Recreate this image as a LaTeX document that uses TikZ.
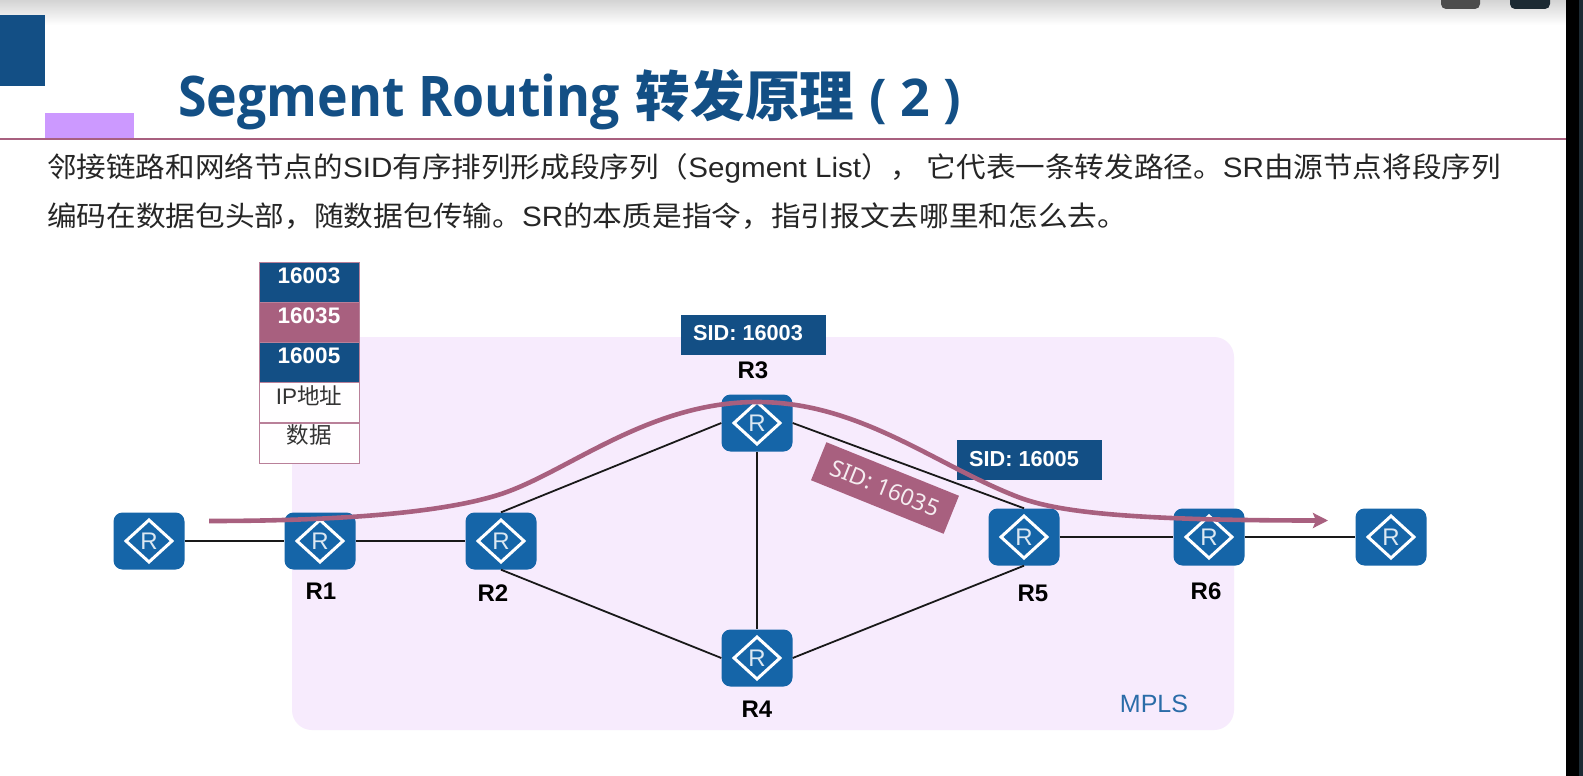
\documentclass[tikz,border=0pt]{standalone}
\usepackage{fontspec}
\usepackage{graphicx}
\setmainfont{Liberation Sans}
\newfontfamily\cjk{Noto Sans CJK SC}
\newfontfamily\titlefont{Open Sans}
\newfontfamily\sidfont{Noto Sans}
\usetikzlibrary{arrows.meta}
\definecolor{deepblue}{HTML}{134F85}
\definecolor{routerblue}{HTML}{1565A8}
\definecolor{rose}{HTML}{A8607F}
\definecolor{lav}{HTML}{F7EBFD}
\definecolor{purp}{HTML}{CC99FF}
\definecolor{mplsblue}{HTML}{2A6CA8}
\definecolor{strip}{HTML}{1C2A33}
\tikzset{
  x=1pt,y=-1pt,
  rtr/.style={rectangle,rounded corners=9pt,fill=routerblue,minimum width=71pt,minimum height=57pt,inner sep=0pt,
    text=white!85!routerblue,font=\fontsize{24}{24}\selectfont,
    path picture={\draw[white,line width=3pt,sharp corners]
      ([xshift=-23pt]path picture bounding box.center)--([yshift=21pt]path picture bounding box.center)--
      ([xshift=23pt]path picture bounding box.center)--([yshift=-21pt]path picture bounding box.center)--cycle;}},
  link/.style={draw=black!90,line width=1.8pt},
  rlabel/.style={font=\bfseries\fontsize{24}{24}\selectfont,text=black,inner sep=0pt},
  stackcell/.style={minimum width=100pt,minimum height=40pt,inner sep=0pt,draw=rose!80!white,line width=1pt},
  celltext/.style={inner sep=0pt,font=\bfseries\fontsize{22.5}{22.5}\selectfont,text=white},
  cellplain/.style={inner sep=0pt,font=\fontsize{22.5}{22.5}\selectfont,text=black!80},
  sidbox/.style={fill=deepblue,minimum width=145pt,minimum height=40pt,inner sep=0pt},
  sidtext/.style={inner sep=0pt,font=\bfseries\fontsize{21.7}{21.7}\selectfont,text=white},
  bodyline/.style={anchor=west,inner sep=0pt,text=black!85,font=\fontsize{28}{28}\selectfont},
}
\begin{document}
\begin{tikzpicture}
\useasboundingbox (0,0) rectangle (1583,776);
\fill[white] (0,0) rectangle (1583,776);
\shade[top color=black!17,bottom color=white] (0,0) rectangle (1566,25);
\fill[black!70!white,rounded corners=5pt] (1441,-10) rectangle (1480,9);
\fill[strip,rounded corners=5pt] (1510,-10) rectangle (1550,9);
\fill[black] (1566,0) rectangle (1579,776);
\fill[strip] (1579,0) rectangle (1583,776);
% header
\fill[deepblue] (0,15) rectangle (44.5,86);
\fill[purp] (44.5,113) rectangle (134,138);
\draw[rose,line width=2pt] (0,138.5) -- (1566,138.5);
\node[anchor=west,inner sep=0pt,text=deepblue,font=\titlefont\bfseries\fontsize{56}{56}\selectfont] (title) at (178,100)
  {\scalebox{.925}[1]{Segment Routing}\hspace{16pt}{\cjk\bfseries\fontsize{54.6}{56}\selectfont 转发原理}\hspace{15pt}{\fontsize{52}{56}\selectfont ( 2 )}};
\node[bodyline] (line1) at (47,168) {\scalebox{1.057}[1]{{\cjk 邻接链路和网络节点的}SID{\cjk 有序排列形成段序列（}Segment List{\cjk ）， 它代表一条转发路径。}SR{\cjk 由源节点将段序列}}};
\node[bodyline] (line2) at (47,216) {\scalebox{1.06}[1]{{\cjk 编码在数据包头部，随数据包传输。}SR{\cjk 的本质是指令，指引报文去哪里和怎么去。}}};
% MPLS region
\fill[lav,rounded corners=20pt] (292,337) rectangle (1234,730);
\node[inner sep=0pt,text=mplsblue,font=\fontsize{25}{25}\selectfont] (mpls) at (1154,704) {MPLS};
% routers
\node[rtr] (h1) at (149,541) {R};
\node[rtr] (r1) at (320,541) {R};
\node[rtr] (r2) at (501,541) {R};
\node[rtr] (r3) at (757,423) {R};
\node[rtr] (r4) at (757,658) {R};
\node[rtr] (r5) at (1024,537) {R};
\node[rtr] (r6) at (1209,537) {R};
\node[rtr] (h2) at (1391,537) {R};
\draw[link] (h1.east) -- (r1.west);
\draw[link] (r1.east) -- (r2.west);
\draw[link] (r2.north) -- (r3.west);
\draw[link] (r2.south) -- (r4.west);
\draw[link] (r3.east) -- (r5.north);
\draw[link] (r3.south) -- (r4.north);
\draw[link] (r4.east) -- (r5.south);
\draw[link] (r5.east) -- (r6.west);
\draw[link] (r6.east) -- (h2.west);
% labels
\node[rlabel] (l1) at (321,591) {R1};
\node[rlabel] (l2) at (493,593) {R2};
\node[rlabel] (l3) at (753,370) {R3};
\node[rlabel] (l4) at (757,709) {R4};
\node[rlabel] (l5) at (1033,593) {R5};
\node[rlabel] (l6) at (1206,591) {R6};
% packet stack
\node[stackcell,fill=deepblue] (c1) at (309,282) {};
\node[stackcell,fill=rose] (c2) at (309,322) {};
\node[stackcell,fill=deepblue] (c3) at (309,362) {};
\node[stackcell,fill=white!97!lav] (c4) at (309,402.5) {};
\node[stackcell,fill=white!97!lav] (c5) at (309,443) {};
\node[celltext] (t1) at (309,276) {16003};
\node[celltext] (t2) at (309,316) {16035};
\node[celltext] (t3) at (309,356) {16005};
\node[cellplain] (t4) at (309,396) {IP{\cjk 地址}};
\node[cellplain] (t5) at (309,435) {\cjk 数据};
% SID tags
\node[sidbox] (s3) at (753.5,334.5) {};
\node[sidtext] (st3) at (748,333) {SID: 16003};
\node[sidbox] (s5) at (1029.5,459.5) {};
\node[sidtext] (st5) at (1024,459) {SID: 16005};
\node[fill=rose,minimum width=143pt,minimum height=41pt,inner sep=0pt,rotate=-22,text=white!88!rose,font=\sidfont\fontsize{23}{23}\selectfont] (s35) at (885,488) {SID: 16035};
% path
\coordinate (ps) at (209,521);
\coordinate (pe) at (1328,520.5);
\draw[rose,line width=4.6pt,-{Stealth[length=15pt,width=15pt,inset=3pt]}] (ps)
  .. controls (320,521) and (440,515) .. (504,493)
  .. controls (570,470) and (650,402) .. (757,402)
  .. controls (860,402) and (935,465) .. (1018,497)
  .. controls (1055,511) and (1120,520.5) .. (pe);
\end{tikzpicture}
\end{document}
